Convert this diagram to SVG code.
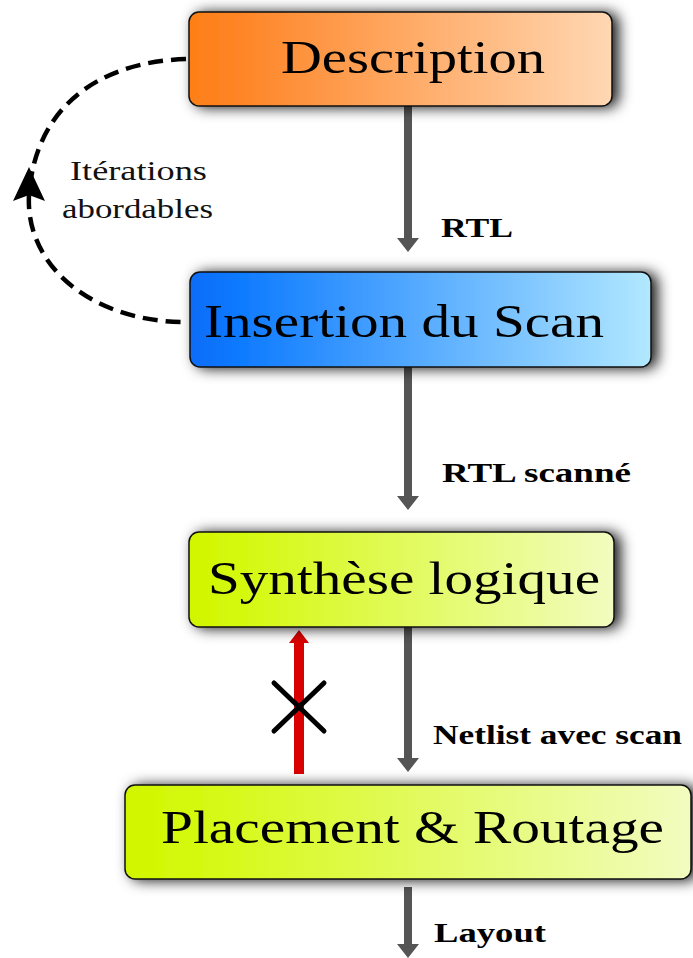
<svg xmlns="http://www.w3.org/2000/svg" width="693" height="958" viewBox="0 0 693 958">
<defs>
<linearGradient id="gOrange" x1="0" y1="0" x2="1" y2="0">
<stop offset="0" stop-color="#fd7f17"/>
<stop offset="0.12" stop-color="#fe8526"/>
<stop offset="1" stop-color="#ffd7b3"/>
</linearGradient>
<linearGradient id="gBlue" x1="0" y1="0" x2="1" y2="0">
<stop offset="0" stop-color="#0a6cf8"/>
<stop offset="0.12" stop-color="#107cff"/>
<stop offset="1" stop-color="#b2e8ff"/>
</linearGradient>
<linearGradient id="gGreen" x1="0" y1="0" x2="1" y2="0">
<stop offset="0" stop-color="#d0f500"/>
<stop offset="0.1" stop-color="#d4f90a"/>
<stop offset="1" stop-color="#f2fcc0"/>
</linearGradient>
<filter id="shadow" x="-10%" y="-40%" width="125%" height="190%">
<feDropShadow dx="6" dy="1" stdDeviation="7" flood-color="#000" flood-opacity="0.9"/>
</filter>
<marker id="grayHead" markerUnits="userSpaceOnUse" markerWidth="14" markerHeight="22" refX="0" refY="11" orient="auto" viewBox="0 0 14 22">
<path d="M0,0 L14,11 L0,22 Z" fill="#555555"/>
</marker>
</defs>
<style>
.box{stroke:#111;stroke-width:1.5}
.big{font-family:'Liberation Serif',serif;font-size:46px;fill:#000}
.lbl{font-family:'Liberation Serif',serif;font-size:28px;font-weight:bold;fill:#000}
.note{font-family:'Liberation Serif',serif;font-size:27px;fill:#111}
.flow{stroke:#555555;stroke-width:8;fill:none}
</style>

<g id="connectors">
<line class="flow" x1="408" y1="106" x2="408" y2="238" marker-end="url(#grayHead)"/>
<line class="flow" x1="408" y1="367" x2="408" y2="496" marker-end="url(#grayHead)"/>
<line class="flow" x1="408" y1="627" x2="408" y2="758" marker-end="url(#grayHead)"/>
<line class="flow" x1="408" y1="887" x2="408" y2="944" marker-end="url(#grayHead)"/>
<path d="M186,59 C95,62 35,110 29,195 C25,268 95,322 185,322" fill="none" stroke="#000" stroke-width="4.5" stroke-dasharray="15,8"/>
<path d="M29,167 L45,201 L29,195 L13,201 Z" fill="#000"/>
<rect x="294" y="642" width="10" height="132" fill="#d80000"/>
<path d="M289,643 L309,643 L299,630 Z" fill="#d80000"/>
<path d="M274,683 L324,731 M324,683 L274,731" stroke="#000" stroke-width="5" stroke-linecap="round"/>
<text class="lbl" font-family="Liberation Serif" x="441" y="237" textLength="72" lengthAdjust="spacingAndGlyphs">RTL</text>
<text class="lbl" font-family="Liberation Serif" x="442" y="482" textLength="189" lengthAdjust="spacingAndGlyphs">RTL scanné</text>
<text class="lbl" font-family="Liberation Serif" x="433" y="744" textLength="249" lengthAdjust="spacingAndGlyphs">Netlist avec scan</text>
<text class="lbl" font-family="Liberation Serif" x="434" y="942" textLength="112" lengthAdjust="spacingAndGlyphs">Layout</text>
<text class="note" font-family="Liberation Serif" x="70" y="180" textLength="137" lengthAdjust="spacingAndGlyphs">Itérations</text>
<text class="note" font-family="Liberation Serif" x="62" y="218" textLength="151" lengthAdjust="spacingAndGlyphs">abordables</text>
</g>

<g id="description">
<rect class="box" x="189" y="12" width="423" height="94" rx="10" fill="url(#gOrange)" filter="url(#shadow)"/>
<text class="big" font-family="Liberation Serif" x="281" y="73" textLength="264" lengthAdjust="spacingAndGlyphs">Description</text>
</g>
<g id="insertion">
<rect class="box" x="190" y="272" width="461" height="95" rx="10" fill="url(#gBlue)" filter="url(#shadow)"/>
<text class="big" font-family="Liberation Serif" x="204" y="337" textLength="400" lengthAdjust="spacingAndGlyphs">Insertion du Scan</text>
</g>
<g id="synthese">
<rect class="box" x="189" y="532" width="425" height="95" rx="10" fill="url(#gGreen)" filter="url(#shadow)"/>
<text class="big" font-family="Liberation Serif" x="208" y="594" textLength="392" lengthAdjust="spacingAndGlyphs">Synthèse logique</text>
</g>
<g id="placement">
<rect class="box" x="125" y="785" width="566" height="94" rx="10" fill="url(#gGreen)" filter="url(#shadow)"/>
<text class="big" font-family="Liberation Serif" x="161" y="843" textLength="503" lengthAdjust="spacingAndGlyphs">Placement &amp; Routage</text>
</g>
</svg>
